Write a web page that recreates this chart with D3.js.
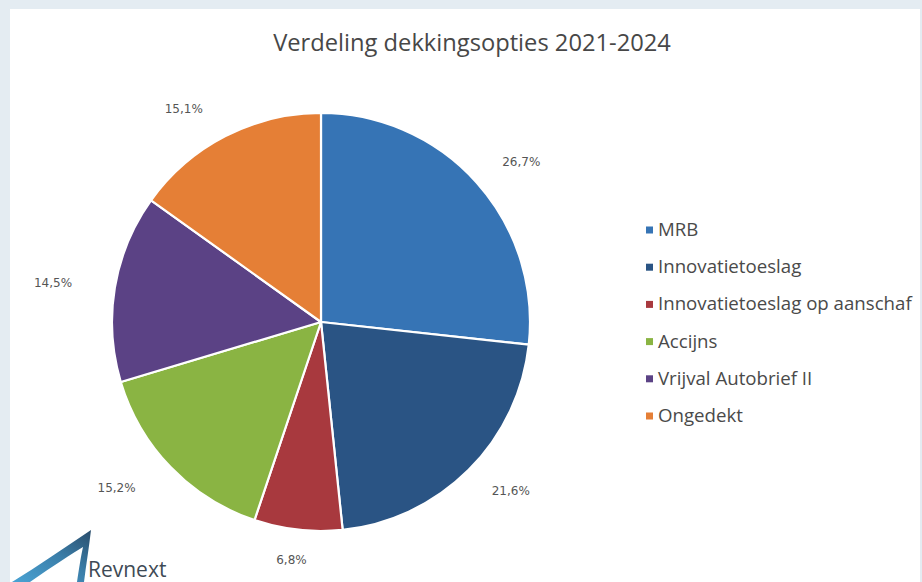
<!DOCTYPE html>
<html><head><meta charset="utf-8">
<script src="https://cdn.jsdelivr.net/npm/d3@7"></script>
<style>html,body{margin:0;padding:0;background:#e4ecf2;}svg{display:block;}</style>
</head><body>
<svg id="c" width="922" height="582"></svg>
<script>
const title = "Verdeling dekkingsopties 2021-2024";
const categories = ["MRB","Innovatietoeslag","Innovatietoeslag op aanschaf","Accijns","Vrijval Autobrief II","Ongedekt"];
const values = [26.7, 21.6, 6.8, 15.2, 14.5, 15.1];
const valueLabels = ["26,7%","21,6%","6,8%","15,2%","14,5%","15,1%"];
const colors = ["#3674b5","#2a5484","#a8393e","#8ab443","#5b4285","#e57f36"];

const svg = d3.select("#c");
svg.append("rect").attr("x",10).attr("y",9).attr("width",910).attr("height",573).attr("fill","#ffffff");

const t = svg.append("text").attr("x",472).attr("y",51).attr("text-anchor","middle")
  .attr("font-family","Open Sans").attr("font-size",20).attr("fill","#474747").text(title);
const tw = t.node().getComputedTextLength();
t.attr("font-size", 20*398/tw);

const cx = 321, cy = 322, R = 209;
const g = svg.append("g").attr("transform",`translate(${cx},${cy})`);
const pie = d3.pie().sort(null).value(d=>d.v);
const data = pie(values.map((v,i)=>({v,i})));
const arc = d3.arc().innerRadius(0).outerRadius(R);
g.selectAll("path").data(data).join("path")
  .attr("d",arc).attr("fill",d=>colors[d.data.i])
  .attr("stroke","#ffffff").attr("stroke-width",2.2).attr("stroke-linejoin","round");

data.forEach(d=>{
  const a = (d.startAngle+d.endAngle)/2;
  const s = Math.sin(a), c = -Math.cos(a);
  const r = R+34;
  let x = r*s + s*26, y = r*c + c*(-4);
  if (s < -0.3) x -= 16*Math.abs(c);
  g.append("text").attr("x",x).attr("y",y+4).attr("text-anchor","middle")
    .attr("font-family","DejaVu Sans").attr("font-size",12).attr("fill","#555555")
    .text(valueLabels[d.data.i]);
});

const lg = svg.append("g");
let lfs = 16;
categories.forEach((name,i)=>{
  const y = 230 + i*37.2;
  lg.append("rect").attr("x",646).attr("y",y-3.5).attr("width",7).attr("height",7).attr("fill",colors[i]);
  lg.append("text").attr("x",658).attr("y",y+6).attr("font-family","Open Sans").attr("font-size",lfs)
    .attr("fill","#4a4a4a").text(name);
});
const longest = lg.selectAll("text").nodes()[2].getComputedTextLength();
lfs = lfs*254/longest;
lg.selectAll("text").attr("font-size",lfs);

const defs = svg.append("defs");
const gr = defs.append("linearGradient").attr("id","lg1").attr("x1","0").attr("y1","1").attr("x2","1").attr("y2","0");
gr.append("stop").attr("offset","0").attr("stop-color","#4aa3d4");
gr.append("stop").attr("offset","0.55").attr("stop-color","#3b7ea9");
gr.append("stop").attr("offset","1").attr("stop-color","#2a4d6b");
svg.append("path")
  .attr("d","M12 582 C38 566 64 548 91 530 C89 548 86 565 84 582 L77 582 C79 568 81 556 83 547 C62 560 44 572 30 582 Z")
  .attr("fill","url(#lg1)");
svg.append("text").attr("x",88).attr("y",577).attr("font-family","Open Sans").attr("font-size",21)
  .attr("fill","#3e4a55").text("Revnext");
</script>
</body></html>
